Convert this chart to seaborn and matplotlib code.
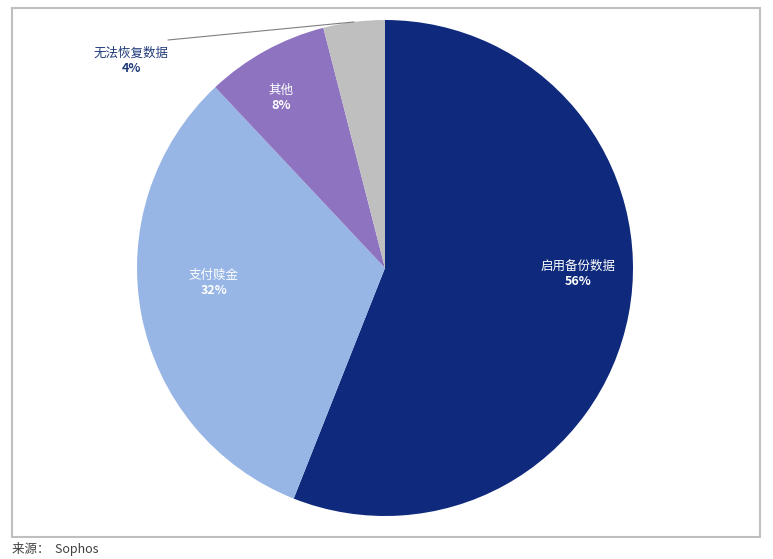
import matplotlib
matplotlib.use("Agg")
import matplotlib.pyplot as plt
from matplotlib.patches import Rectangle
import numpy as np
import seaborn as sns

# data
labels = ["启用备份数据", "支付赎金", "其他", "无法恢复数据"]
shares = [56, 32, 8, 4]
colors = ["#0F2A7C", "#97B5E5", "#8E74C0", "#BFBFBF"]

sns.set_style("white")
plt.rcParams["font.family"] = ["Noto Sans CJK SC", "DejaVu Sans"]

W, H = 773, 559
fig = plt.figure(figsize=(W / 100, H / 100), dpi=100)

# pie centre (385, 268) px, radius 248 px
cx, cy, r = 385, 268, 248
ax = fig.add_axes([(cx - r) / W, (H - cy - r) / H, 2 * r / W, 2 * r / H])
wedges, _ = ax.pie(shares, colors=colors, startangle=90, counterclock=False,
                   wedgeprops=dict(linewidth=0))
ax.set_xlim(-1, 1)
ax.set_ylim(-1, 1)
ax.set_aspect("auto")
ax.axis("off")

# in-slice labels (data coords relative to pie)
inside = {0: (0.78, -0.055), 1: (-0.69, -0.09), 2: (-0.42, 0.655)}
for i, (x, y) in inside.items():
    ax.text(x, y + 0.035, labels[i], color="white", fontsize=9,
            ha="center", va="bottom")
    ax.text(x, y + 0.025, f"{shares[i]}%", color="white", fontsize=9,
            fontweight="bold", ha="center", va="top")

# outside label with leader line for the small grey slice
theta = np.deg2rad(90 + 360 * shares[3] / 100 / 2)
ex, ey = np.cos(theta), np.sin(theta)
lx, ly = (168 - cx) / r, (cy - 40) / r
ax.plot([lx, ex], [ly, ey], color="#7F7F7F", lw=0.8, clip_on=False)
tx, ty = (131 - cx) / r, (cy - 61) / r
ax.text(tx, ty + 0.005, labels[3], color="#1F3A7A", fontsize=9,
        ha="center", va="bottom")
ax.text(tx, ty - 0.005, f"{shares[3]}%", color="#1F3A7A", fontsize=9,
        fontweight="bold", ha="center", va="top")

# outer frame
fig.patches.append(Rectangle((12 / W, (H - 537) / H), (760 - 12) / W, (537 - 8) / H,
                             transform=fig.transFigure, fill=False,
                             edgecolor="#BFBFBF", linewidth=1.5))

fig.text(12 / W, (H - 549) / H, "来源：  Sophos", fontsize=9, color="#404040",
         ha="left", va="center")

fig.savefig("out.png", dpi=100)
